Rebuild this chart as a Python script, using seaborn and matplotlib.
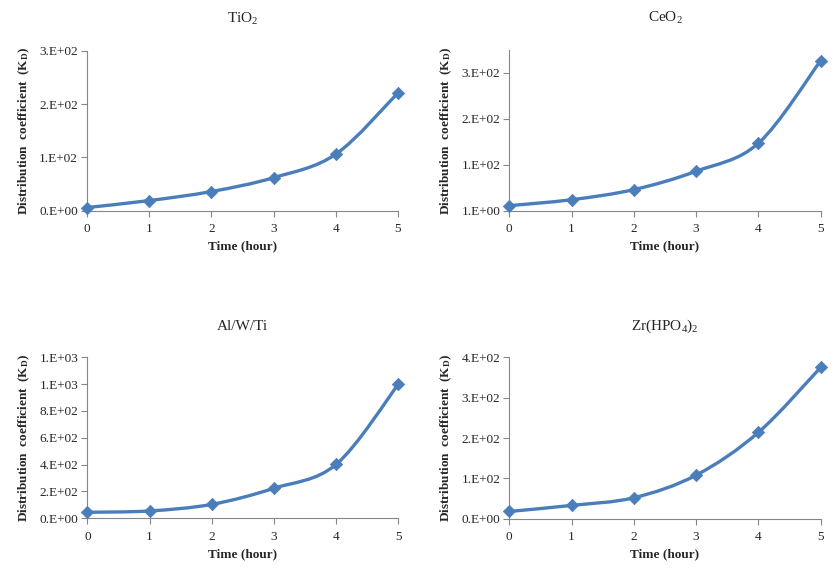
"""
Distribution coefficient (K_D) vs. time for four sorbents, 2x2 panel figure.
"""

import numpy as np
import matplotlib.pyplot as plt
import seaborn as sns
from matplotlib.path import Path
from matplotlib.patches import PathPatch
from matplotlib.ticker import FuncFormatter

# ─────────────────────────────────────────────
# Data
# ─────────────────────────────────────────────

hours  = [0, 1, 2, 3, 4, 5]
tio2   = [6, 19, 36, 62, 106, 221]
ceo2   = [12, 25, 47, 87, 148, 328]
alwti  = [45, 55, 104, 224, 402, 999]
zrhpo4 = [18, 33, 52, 108, 214, 375]

titles = ["TiO$_2$", "CeO$_2$", "Al/W/Ti", "Zr(HPO$_4$)$_2$"]
series = [tio2, ceo2, alwti, zrhpo4]
y_ticks = [
    [0, 100, 200, 300],
    [1, 101, 201, 301],
    [0, 200, 400, 600, 800, 1000, 1200],
    [0, 100, 200, 300, 400],
]
y_limits = [(0, 300), (1, 351), (0, 1200), (0, 400)]

LINE_COLOR = "#4a7ebb"
SPINE_COLOR = "#868686"

sns.set_style("ticks")
plt.rcParams["font.family"] = ["Liberation Serif", "DejaVu Serif"]
plt.rcParams["mathtext.fontset"] = "custom"
plt.rcParams["mathtext.rm"] = "Liberation Serif"
plt.rcParams["mathtext.bf"] = "Liberation Serif:bold"
plt.rcParams["mathtext.default"] = "regular"


def _smooth_path(x, y):
    """Excel-style smoothed line: cubic Bezier through every point."""
    pts = np.column_stack([x, y]).astype(float)
    n = len(pts)
    verts = [pts[0]]
    codes = [Path.MOVETO]
    for i in range(n - 1):
        p_prev = pts[i - 1] if i > 0 else pts[i]
        p_next2 = pts[i + 2] if i + 2 < n else pts[i + 1]
        c1 = pts[i] + (pts[i + 1] - p_prev) / 6
        c2 = pts[i + 1] - (p_next2 - pts[i]) / 6
        verts += [c1, c2, pts[i + 1]]
        codes += [Path.CURVE4] * 3
    return Path(verts, codes)


def _excel_fmt(v, _pos):
    return f"{v:#.0E}"


# axes rectangles in figure fractions
positions = [
    [0.1036, 0.6348, 0.3702, 0.2773],
    [0.6063, 0.6348, 0.3707, 0.2785],
    [0.1040, 0.1017, 0.3702, 0.2790],
    [0.6063, 0.1010, 0.3707, 0.2797],
]

fig = plt.figure(figsize=(8.4, 5.77), dpi=100)

for pos, title, vals, ticks, lims in zip(positions, titles, series, y_ticks, y_limits):
    ax = fig.add_axes(pos)

    ax.add_patch(PathPatch(_smooth_path(hours, vals), facecolor="none",
                           edgecolor=LINE_COLOR, lw=2.4, capstyle="round",
                           joinstyle="round", zorder=2))
    sns.scatterplot(x=hours, y=vals, marker="D", s=40, color=LINE_COLOR,
                    edgecolor=LINE_COLOR, linewidth=0.5, ax=ax, zorder=3,
                    clip_on=False)

    ax.set_xlim(0, 5)
    ax.set_ylim(*lims)
    ax.set_xticks(hours)
    ax.set_yticks(ticks)
    ax.yaxis.set_major_formatter(FuncFormatter(_excel_fmt))

    ax.set_title(title, fontsize=11, pad=20)
    ax.set_xlabel("Time (hour)", fontsize=9.5, fontweight="bold", labelpad=4)
    ax.set_ylabel("Distribution  coefficient  (K$_\\mathbf{D}$)",
                  fontsize=9.5, fontweight="bold")
    ax.yaxis.set_label_coords(-0.178, 0.5)

    sns.despine(ax=ax)
    for side in ("left", "bottom"):
        ax.spines[side].set_color(SPINE_COLOR)
        ax.spines[side].set_linewidth(0.8)
    ax.tick_params(axis="both", direction="out", length=4, width=0.8,
                   color=SPINE_COLOR, labelsize=9.5, pad=2.5)
    ax.tick_params(axis="x", pad=5)

fig.savefig("out.png", dpi=100)
plt.close(fig)
